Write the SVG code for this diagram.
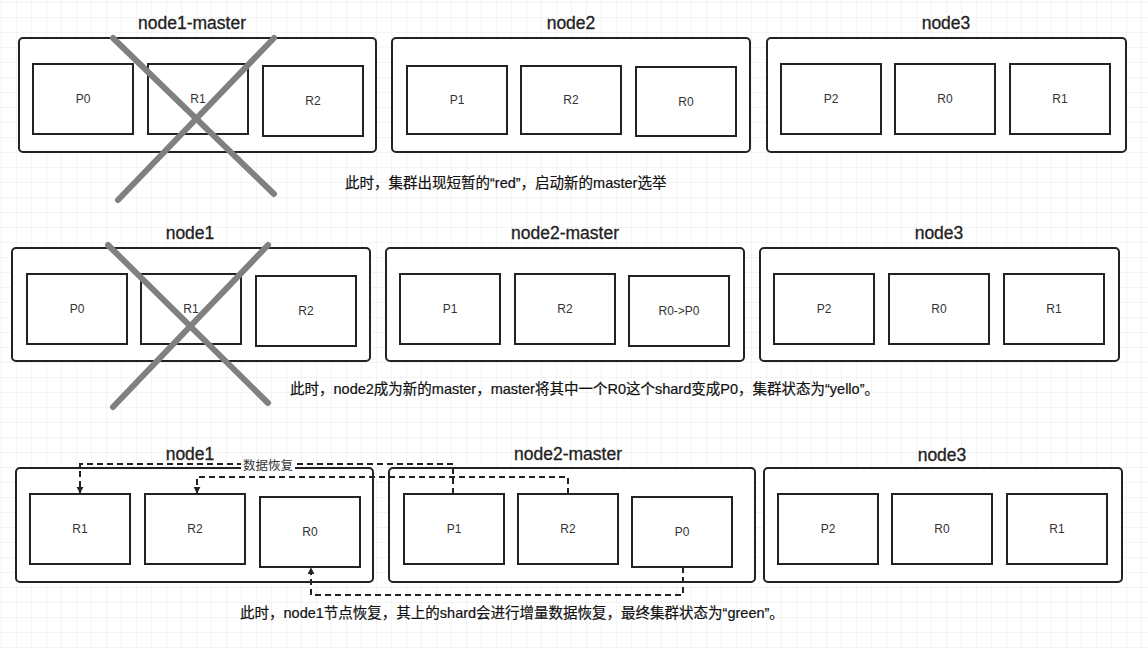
<svg xmlns="http://www.w3.org/2000/svg" width="1148" height="650" viewBox="0 0 1148 650">
<defs>
<pattern id="g" x="2" y="3" width="15" height="15" patternUnits="userSpaceOnUse"><path d="M15 0V15H0" fill="none" stroke="#e8e8e8" stroke-width="1"/></pattern>
<marker id="a" viewBox="0 0 10 10" refX="9" refY="5" markerWidth="7" markerHeight="9" orient="auto" markerUnits="userSpaceOnUse"><path d="M0 0L10 5L0 10Z" fill="#222"/></marker>
<style>
.c{fill:#fff;stroke:#222;stroke-width:2}
.b{fill:#fff;stroke:#222;stroke-width:2}
.t{font-family:"Liberation Sans",Arial,sans-serif;font-size:17.5px;fill:#222;text-anchor:middle;stroke:#222;stroke-width:0.3}
.l{font-family:"Liberation Sans",Arial,sans-serif;font-size:12px;fill:#333;text-anchor:middle;dominant-baseline:central}
.cap{font-family:"Liberation Sans","Noto Sans CJK SC",sans-serif;font-size:14.5px;fill:#111;stroke:#111;stroke-width:0.2}
.x{stroke:#808080;stroke-width:6;stroke-linecap:round}
.d{fill:none;stroke:#222;stroke-width:2;stroke-dasharray:6 4}
</style>
</defs>
<rect width="1148" height="650" fill="#fff"/>
<rect width="1148" height="650" fill="url(#g)"/>

<g id="r1-node1"><text class="t" x="192" y="29">node1-master</text><rect class="c" x="19" y="38" width="357" height="114" rx="4"/>
<rect class="b" x="33" y="64" width="100" height="70"/><text class="l" x="83" y="99">P0</text>
<rect class="b" x="148" y="64" width="100" height="70"/><text class="l" x="198" y="99">R1</text>
<rect class="b" x="263" y="66" width="100" height="70"/><text class="l" x="313" y="101">R2</text></g>
<g id="r1-node2"><text class="t" x="571" y="29">node2</text><rect class="c" x="392" y="38" width="358" height="114" rx="4"/>
<rect class="b" x="407" y="66" width="100" height="68"/><text class="l" x="457" y="100">P1</text>
<rect class="b" x="521" y="66" width="100" height="68"/><text class="l" x="571" y="100">R2</text>
<rect class="b" x="636" y="67" width="100" height="69"/><text class="l" x="686" y="102">R0</text></g>
<g id="r1-node3"><text class="t" x="946" y="29">node3</text><rect class="c" x="767" y="38" width="359" height="114" rx="4"/>
<rect class="b" x="781" y="64" width="100" height="70"/><text class="l" x="831" y="99">P2</text>
<rect class="b" x="895" y="64" width="100" height="70"/><text class="l" x="945" y="99">R0</text>
<rect class="b" x="1010" y="64" width="100" height="70"/><text class="l" x="1060" y="99">R1</text></g>
<g id="x1"><line class="x" x1="113" y1="38" x2="274" y2="194"/><line class="x" x1="274" y1="38" x2="118" y2="200"/></g>
<text class="cap" x="345" y="188">此时，集群出现短暂的“red”，启动新的master选举</text>

<g id="r2-node1"><text class="t" x="190" y="239">node1</text><rect class="c" x="12" y="248" width="358" height="113" rx="4"/>
<rect class="b" x="27" y="274" width="100" height="70"/><text class="l" x="77" y="309">P0</text>
<rect class="b" x="141" y="274" width="100" height="70"/><text class="l" x="191" y="309">R1</text>
<rect class="b" x="256" y="276" width="100" height="70"/><text class="l" x="306" y="311">R2</text></g>
<g id="r2-node2"><text class="t" x="565" y="239">node2-master</text><rect class="c" x="386" y="248" width="358" height="113" rx="4"/>
<rect class="b" x="400" y="274" width="100" height="70"/><text class="l" x="450" y="309">P1</text>
<rect class="b" x="515" y="274" width="100" height="70"/><text class="l" x="565" y="309">R2</text>
<rect class="b" x="629" y="276" width="100" height="70"/><text class="l" x="679" y="311">R0-&gt;P0</text></g>
<g id="r2-node3"><text class="t" x="939" y="239">node3</text><rect class="c" x="760" y="248" width="359" height="113" rx="4"/>
<rect class="b" x="774" y="274" width="100" height="70"/><text class="l" x="824" y="309">P2</text>
<rect class="b" x="889" y="274" width="100" height="70"/><text class="l" x="939" y="309">R0</text>
<rect class="b" x="1004" y="274" width="100" height="70"/><text class="l" x="1054" y="309">R1</text></g>
<g id="x2"><line class="x" x1="108" y1="245" x2="268" y2="403"/><line class="x" x1="268" y1="245" x2="113" y2="407"/></g>
<text class="cap" x="290" y="394">此时，node2成为新的master，master将其中一个R0这个shard变成P0，集群状态为“yello”。</text>

<g id="r3-node1"><text class="t" x="190" y="460">node1</text><rect class="c" x="16" y="468" width="357" height="114" rx="4"/>
<rect class="b" x="30" y="494" width="100" height="70"/><text class="l" x="80" y="529">R1</text>
<rect class="b" x="145" y="494" width="100" height="70"/><text class="l" x="195" y="529">R2</text>
<rect class="b" x="260" y="497" width="100" height="70"/><text class="l" x="310" y="532">R0</text></g>
<g id="r3-node2"><text class="t" x="568" y="460">node2-master</text><rect class="c" x="389" y="468" width="366" height="114" rx="4"/>
<rect class="b" x="404" y="494" width="100" height="70"/><text class="l" x="454" y="529">P1</text>
<rect class="b" x="518" y="494" width="100" height="70"/><text class="l" x="568" y="529">R2</text>
<rect class="b" x="632" y="497" width="100" height="70"/><text class="l" x="682" y="532">P0</text></g>
<g id="r3-node3"><text class="t" x="942" y="461">node3</text><rect class="c" x="764" y="468" width="358" height="114" rx="4"/>
<rect class="b" x="778" y="494" width="100" height="70"/><text class="l" x="828" y="529">P2</text>
<rect class="b" x="892" y="494" width="100" height="70"/><text class="l" x="942" y="529">R0</text>
<rect class="b" x="1007" y="494" width="100" height="70"/><text class="l" x="1057" y="529">R1</text></g>

<g id="connectors">
<path class="d" d="M453 494V464H80V493" marker-end="url(#a)"/>
<path class="d" d="M568 494V477H197V493" marker-end="url(#a)"/>
<path class="d" d="M683 567V595H311V568" marker-end="url(#a)"/>
<rect x="241" y="458" width="54" height="14" fill="#fff"/>
<text x="268" y="470" text-anchor="middle" font-family="Liberation Sans,Noto Sans CJK SC,sans-serif" font-size="12.5" fill="#333">数据恢复</text>
</g>
<text class="cap" x="240" y="618">此时，node1节点恢复，其上的shard会进行增量数据恢复，最终集群状态为“green”。</text>
</svg>
